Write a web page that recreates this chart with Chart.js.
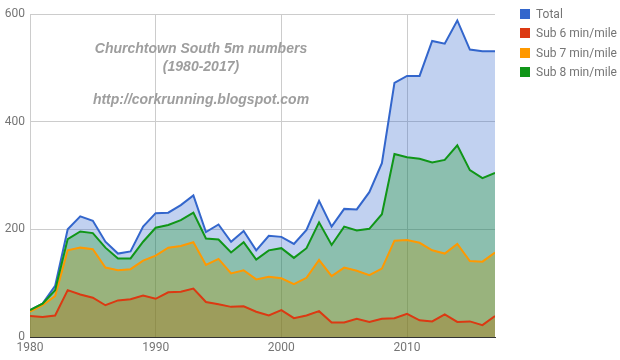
<!DOCTYPE html>
<html>
<head>
<meta charset="utf-8">
<script src="https://cdn.jsdelivr.net/npm/chart.js@4"></script>
<style>
html,body{margin:0;padding:0;background:#fff;}
#wrap{position:relative;width:620px;height:360px;}
#legend{position:absolute;left:520px;top:5px;font-family:Roboto,Arial,sans-serif;font-size:12px;color:#757575;}
#legend div{height:19.3px;line-height:19.3px;white-space:nowrap;}
#legend span{display:inline-block;width:10px;height:10px;margin-right:6px;vertical-align:-1px;}
</style>
</head>
<body>
<div id="wrap">
<canvas id="c" width="620" height="360"></canvas>
<div id="legend"></div>
</div>
<script>
const years = [1980,1981,1982,1983,1984,1985,1986,1987,1988,1989,1990,1991,1992,1993,1994,1995,1996,1997,1998,1999,2000,2001,2002,2003,2004,2005,2006,2007,2008,2009,2010,2011,2012,2013,2014,2015,2016,2017];
const total = [50,62,95,200,224,216,177,155,159,205,230,231,245,263,195,209,177,197,161,188,186,173,199,253,205,238,237,269,323,472,485,485,550,545,588,534,531,531];
const sub6  = [39,37,40,87,79,73,59,68,70,77,71,83,84,90,65,61,56,57,47,40,50,35,40,48,27,27,34,28,34,35,43,31,29,42,28,29,22,39];
const sub7  = [47,59,76,161,166,163,129,124,126,142,151,166,169,176,134,145,118,124,107,112,109,98,110,143,113,129,123,115,127,179,180,175,161,155,173,141,140,157];
const sub8  = [50,62,87,182,196,193,166,146,146,177,203,208,217,231,183,181,157,176,144,161,165,147,165,213,171,205,198,201,228,340,334,331,324,329,356,310,295,305];
const seriesNames = ['Total','Sub 6 min/mile','Sub 7 min/mile','Sub 8 min/mile'];
const yTicks = [0,200,400,600];
const xTicks = [1980,1990,2000,2010];
const titleLines = ['Churchtown South 5m numbers','(1980-2017)','','http://corkrunning.blogspot.com'];

const colors = ['51,102,204','220,57,18','255,153,0','16,150,24'];
const seriesData = [total, sub6, sub7, sub8];

const datasets = seriesData.map((vals, i) => ({
  label: seriesNames[i],
  data: years.map((y, j) => ({x: y, y: vals[j]})),
  borderColor: 'rgb(' + colors[i] + ')',
  backgroundColor: 'rgba(' + colors[i] + ',0.3)',
  borderWidth: 2,
  pointRadius: 0,
  tension: 0,
  fill: 'origin',
  order: 3 - i
}));

const leg = document.getElementById('legend');
seriesNames.forEach((n, i) => {
  const d = document.createElement('div');
  const s = document.createElement('span');
  s.style.background = 'rgb(' + colors[i] + ')';
  d.appendChild(s);
  d.appendChild(document.createTextNode(n));
  leg.appendChild(d);
});

const titlePlugin = {
  id: 'inTitle',
  afterDraw(chart) {
    const ctx = chart.ctx;
    ctx.save();
    ctx.font = 'italic bold 14px Arial, "Liberation Sans", sans-serif';
    ctx.fillStyle = '#9e9e9e';
    ctx.textAlign = 'center';
    ctx.textBaseline = 'middle';
    const ys = [49, 67, 83, 100];
    titleLines.forEach((t, i) => { if (t) ctx.fillText(t, 201, ys[i]); });
    ctx.restore();
  }
};

new Chart(document.getElementById('c'), {
  type: 'line',
  data: { datasets },
  plugins: [titlePlugin],
  options: {
    responsive: false,
    animation: false,
    events: [],
    layout: { padding: { top: 14, right: 125, left: 0, bottom: 0 } },
    plugins: { legend: { display: false }, tooltip: { enabled: false }, filler: { drawTime: 'beforeDatasetsDraw' } },
    scales: {
      x: {
        type: 'linear',
        min: 1980, max: 2017,
        afterFit(s) { s.height = 23; },
        afterBuildTicks(s) { s.ticks = xTicks.map(v => ({value: v})); },
        ticks: { callback: v => String(v), color: '#757575', font: { family: 'Roboto', size: 12 }, padding: 4, maxRotation: 0, includeBounds: false },
        grid: { color: '#cccccc', drawTicks: false },
        border: { color: '#333333', width: 1 }
      },
      y: {
        min: 0, max: 600,
        afterFit(s) { s.width = 30; },
        afterBuildTicks(s) { s.ticks = yTicks.map(v => ({value: v})); },
        ticks: { color: '#757575', font: { family: 'Roboto', size: 12 }, padding: 5 },
        grid: { color: '#cccccc', drawTicks: false },
        border: { display: false }
      }
    }
  }
});
</script>
</body>
</html>
